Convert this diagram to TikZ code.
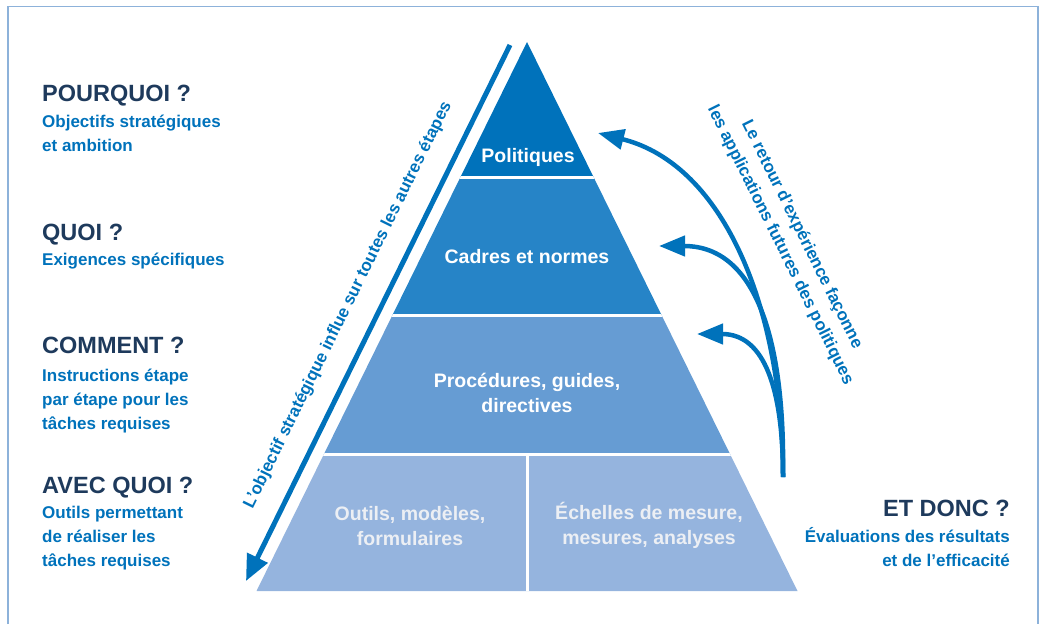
\documentclass[tikz,border=0pt]{standalone}
\usepackage{fontspec}
\setmainfont{Liberation Sans}
\usetikzlibrary{arrows.meta}

\definecolor{navy}{RGB}{30,58,92}
\definecolor{ublue}{RGB}{0,114,187}
\definecolor{framec}{RGB}{141,178,218}
\definecolor{layA}{RGB}{0,114,187}
\definecolor{layB}{RGB}{38,132,199}
\definecolor{layC}{RGB}{102,156,211}
\definecolor{layD}{RGB}{149,180,222}
\definecolor{paletxt}{RGB}{236,239,244}

\begin{document}
\begin{tikzpicture}[
    x=1pt, y=-1pt,
    question/.style={font=\fontsize{23.5}{28}\selectfont\bfseries, text=navy,
                     inner sep=0pt, anchor=base west},
    answer/.style={font=\fontsize{17}{24}\selectfont\bfseries, text=ublue,
                   inner sep=0pt, anchor=base west, align=left},
    layerlabel/.style={font=\fontsize{19.5}{25}\selectfont\bfseries, text=white,
                       inner sep=0pt, anchor=base, align=center},
    slopetxt/.style={font=\fontsize{17}{24}\selectfont\bfseries, text=ublue, inner sep=0pt},
    bigarrow/.style={-{Triangle[length=26pt,width=22pt]}, line width=5pt, draw=ublue},
    fbarrow/.style={-{Triangle[length=26pt,width=20pt]}, line width=4.5pt, draw=ublue},
    gap/.style={draw=white, line width=3pt}
]
\useasboundingbox (0,0) rectangle (1041,624);

% frame (open at the bottom)
\draw[framec, line width=1.8pt] (8,624) -- (8,6.5) -- (1038,6.5) -- (1038,624);

%--------
% PYRAMID
%--------
\coordinate (apex)  at (527,42);
\coordinate (baseL) at (256.5,591);
\coordinate (baseR) at (797.5,591);
\begin{scope}
  \clip (apex) -- (baseR) -- (baseL) -- cycle;
  \fill[layA] (240,30)    rectangle (810,177);
  \fill[layB] (240,177)   rectangle (810,315.5);
  \fill[layC] (240,315.5) rectangle (810,454.5);
  \fill[layD] (240,454.5) rectangle (810,600);
  \draw[gap] (240,177)   -- (810,177);
  \draw[gap] (240,315.5) -- (810,315.5);
  \draw[gap] (240,454.5) -- (810,454.5);
  \draw[gap] (527,454.5) -- (527,600);
\end{scope}

% (base of a two-line label = baseline of its last line)
\node[layerlabel] (pol) at (528,162) {Politiques};
\node[layerlabel] (cad) at (527,263) {Cadres et normes};
\node[layerlabel] (pro) at (527,412) {Procédures, guides,\\directives};
\node[layerlabel, text=paletxt] (out) at (410,545) {Outils, modèles,\\formulaires};
\node[layerlabel, text=paletxt] (ech) at (649,544) {Échelles de mesure,\\mesures, analyses};

%--------
% LEFT COLUMN
%--------
\node[question] (qPour) at (42,101) {POURQUOI ?};
\node[answer]   (aPour) at (42,151) {Objectifs stratégiques\\et ambition};
\node[question] (qQuoi) at (42,240) {QUOI ?};
\node[answer]   (aQuoi) at (42,265) {Exigences spécifiques};
\node[question] (qComm) at (42,353) {COMMENT ?};
\node[answer]   (aComm) at (42,429) {Instructions étape\\par étape pour les\\tâches requises};
\node[question] (qAvec) at (42,493) {AVEC QUOI ?};
\node[answer]   (aAvec) at (42,566) {Outils permettant\\de réaliser les\\tâches requises};

%--------
% RIGHT COLUMN
%--------
\node[question, anchor=base east] (qDonc) at (1010,516) {ET DONC ?};
\node[answer, anchor=base east, align=right] (aDonc) at (1010,566)
    {Évaluations des résultats\\et de l’efficacité};

%--------
% STRATEGIC ARROW (parallel to the left side)
%--------
\coordinate (stratTop) at (510,45);
\coordinate (stratTip) at (246,581);
\draw[bigarrow] (stratTop) -- (stratTip);
\node[slopetxt, rotate=63.8] (stratTxt) at (348,305)
    {L’objectif stratégique influe sur toutes les autres étapes};

%--------
% FEEDBACK ARROWS
%--------
\coordinate (fbRoot) at (783,477);
\coordinate (fbPol)  at (598,133);
\coordinate (fbCad)  at (659,246);
\coordinate (fbPro)  at (697,334);
\draw[fbarrow] (fbRoot) .. controls (783,310) and (725,165) .. (fbPol);
\draw[fbarrow] (fbRoot) .. controls (785,350) and (760,246) .. (fbCad);
\draw[fbarrow] (fbRoot) .. controls (783,390) and (765,334) .. (fbPro);

\node[slopetxt, rotate=-63.6, align=center] (fbTxt) at (791,240)
    {Le retour d'expérience façonne\\les applications futures des politiques};

\end{tikzpicture}
\end{document}
